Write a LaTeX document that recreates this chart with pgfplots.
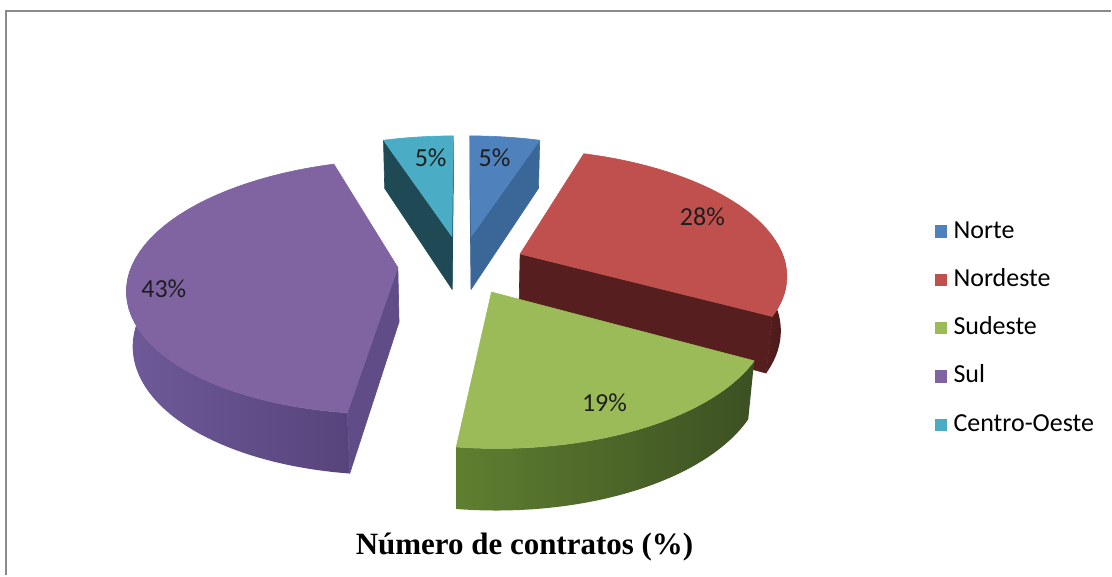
\documentclass[border=0pt]{standalone}
\usepackage{pgfplots}
\pgfplotsset{compat=1.18}
\usepackage{fontspec}
\setmainfont{Carlito}
\newfontfamily\titlefont{Liberation Serif}

\definecolor{cNorte}{HTML}{4F81BD}
\definecolor{cNorteR}{HTML}{3B6798}
\definecolor{cNord}{HTML}{C0504D}
\definecolor{cNordS}{HTML}{561E1E}
\definecolor{cNordS2}{HTML}{4A1818}
\definecolor{cSud}{HTML}{9BBB59}
\definecolor{cSudL}{HTML}{5F7F30}
\definecolor{cSudR}{HTML}{3C5022}
\definecolor{cSul}{HTML}{8064A2}
\definecolor{cSulL}{HTML}{6E5A98}
\definecolor{cSulR}{HTML}{57447C}
\definecolor{cSulRad}{HTML}{604C86}
\definecolor{cCO}{HTML}{4BACC6}
\definecolor{cCOR}{HTML}{1F4A55}
\definecolor{frame}{HTML}{8A8A8A}
\definecolor{lbl}{HTML}{1E1E1E}

% shares of the pie (percent), in drawing order around the pie
\pgfplotstableread{
name   pct
Norte  5
Nordeste 28
Sudeste 19
Sul 43
CentroOeste 5
}\pietable

\def\NS{48}
\def\EE{0.24}   % explosion
\def\HH{0.235}  % thickness

% perspective projection of (u,v,z) -> \X,\Y (axis units)
\newcommand\ptmacro[3]{%
  \pgfmathsetmacro\den{5.86+(#2)*0.885-(#3)*0.465}%
  \pgfmathsetmacro\X{462+1559*(#1)/\den}%
  \pgfmathsetmacro\Y{311+1559*((#2)*0.465+(#3)*0.885)/\den}%
}
\newcommand\addarc[3]{%
  \foreach \k in {0,...,\NS}{%
    \pgfmathsetmacro\angT{#1+(#2-(#1))*\k/\NS}%
    \ptmacro{\ou+sin(\angT)}{\ov+cos(\angT)}{#3}%
    \xdef\pathacc{\pathacc -- (axis cs:\X,\Y)}%
  }}
\newcommand\radface[2]{%
  \ptmacro{\ou}{\ov}{0}\xdef\pathacc{(axis cs:\X,\Y)}%
  \ptmacro{\ou+sin(#1)}{\ov+cos(#1)}{0}\xdef\pathacc{\pathacc -- (axis cs:\X,\Y)}%
  \ptmacro{\ou+sin(#1)}{\ov+cos(#1)}{-\HH}\xdef\pathacc{\pathacc -- (axis cs:\X,\Y)}%
  \ptmacro{\ou}{\ov}{-\HH}\xdef\pathacc{\pathacc -- (axis cs:\X,\Y)}%
  \edef\cmd{\noexpand\filldraw[fill=#2,draw=#2,line width=0.3pt,line join=round] \pathacc -- cycle;}\cmd
}
% #1 start angle, #2 end angle, #3 top, #4 side left, #5 side right, #6 radial colour
\newcommand\pieslice[6]{%
  \pgfmathsetmacro\sm{(#1+#2)/2}%
  \pgfmathsetmacro\ou{\EE*sin(\sm)}%
  \pgfmathsetmacro\ov{\EE*cos(\sm)}%
  \pgfmathsetmacro\lo{max(#1,85)}%
  \pgfmathsetmacro\hi{min(#2,275)}%
  \pgfmathtruncatemacro\vis{\hi>\lo ? 1 : 0}%
  \ifnum\vis=1
    \ptmacro{\ou+sin(\lo)}{\ov+cos(\lo)}{0}%
    \xdef\pathacc{(axis cs:\X,\Y)}%
    \addarc{\lo}{\hi}{0}%
    \addarc{\hi}{\lo}{-\HH}%
    \edef\cmd{\noexpand\shade[left color=#4,right color=#5] \pathacc -- cycle;}\cmd
  \fi
  \pgfmathtruncatemacro\vis{((\ou)*cos(#1) - (5.186+(\ov))*sin(#1)) > 0 ? 1 : 0}%
  \ifnum\vis=1 \radface{#1}{#6}\fi
  \pgfmathtruncatemacro\vis{(-(\ou)*cos(#2) + (5.186+(\ov))*sin(#2)) > 0 ? 1 : 0}%
  \ifnum\vis=1 \radface{#2}{#6}\fi
  \ptmacro{\ou}{\ov}{0}\xdef\pathacc{(axis cs:\X,\Y)}%
  \addarc{#1}{#2}{0}%
  \edef\cmd{\noexpand\filldraw[fill=#3,draw=#3,line width=0.3pt,line join=round] \pathacc -- cycle;}\cmd
}

\begin{document}
\begin{tikzpicture}
\begin{axis}[
  width=556pt, height=288pt, scale only axis,
  xmin=0, xmax=1112, ymin=0, ymax=576,
  hide axis, clip=false,
  legend image code/.code={\fill[#1,draw=none] (0pt,-3.1pt) rectangle (6.2pt,3.1pt);},
  legend cell align=left,
  legend style={at={(0.8408,0.4297)}, anchor=west, draw=none, fill=none,
    font=\fontsize{13}{15}\selectfont, row sep=12.65pt, column sep=3.3pt,
    inner sep=0pt, nodes={inner sep=0pt, text height=9pt, text depth=2.5pt}},
]
\addlegendimage{fill=cNorte,draw=none}\addlegendentry{Norte}
\addlegendimage{fill=cNord,draw=none}\addlegendentry{Nordeste}
\addlegendimage{fill=cSud,draw=none}\addlegendentry{Sudeste}
\addlegendimage{fill=cSul,draw=none}\addlegendentry{Sul}
\addlegendimage{fill=cCO,draw=none}\addlegendentry{Centro-Oeste}
\pgfplotsextra{
  \path (axis cs:0,0) rectangle (axis cs:1112,576);
  \draw[frame, line width=1pt] (axis cs:6,0) -- (axis cs:6,564.5) -- (axis cs:1112,564.5);
  % cumulative angles from the table
  \pgfplotstablegetelem{0}{pct}\of\pietable \pgfmathsetmacro\pA{\pgfplotsretval}
  \pgfplotstablegetelem{1}{pct}\of\pietable \pgfmathsetmacro\pB{\pgfplotsretval}
  \pgfplotstablegetelem{2}{pct}\of\pietable \pgfmathsetmacro\pC{\pgfplotsretval}
  \pgfplotstablegetelem{3}{pct}\of\pietable \pgfmathsetmacro\pD{\pgfplotsretval}
  \pgfplotstablegetelem{4}{pct}\of\pietable \pgfmathsetmacro\pE{\pgfplotsretval}
  \pgfmathsetmacro\aA{3.6*\pA}
  \pgfmathsetmacro\aB{\aA+3.6*\pB}
  \pgfmathsetmacro\aC{\aB+3.6*\pC}
  \pgfmathsetmacro\aD{\aC+3.6*\pD}
  \pgfmathsetmacro\aE{\aD+3.6*\pE}
  \pieslice{0}{\aA}{cNorte}{cNorteR}{cNorteR}{cNorteR}
  \pieslice{\aD}{\aE}{cCO}{cCOR}{cCOR}{cCOR}
  \pieslice{\aA}{\aB}{cNord}{cNordS}{cNordS2}{cNordS}
  \pieslice{\aC}{\aD}{cSul}{cSulL}{cSulR}{cSulRad}
  \pieslice{\aB}{\aC}{cSud}{cSudL}{cSudR}{cSudR}
  \begingroup\fontsize{13}{15}\selectfont
  \node[lbl] at (axis cs:495,418) {5\%};
  \node[lbl] at (axis cs:431,418) {5\%};
  \node[lbl] at (axis cs:703,359) {28\%};
  \node[lbl] at (axis cs:605,173) {19\%};
  \node[lbl] at (axis cs:164,287) {43\%};
  \endgroup
  \node at (axis cs:525,28) {\titlefont\bfseries\fontsize{15.5}{18}\selectfont Número de contratos (\%)};
}
\end{axis}
\end{tikzpicture}
\end{document}
